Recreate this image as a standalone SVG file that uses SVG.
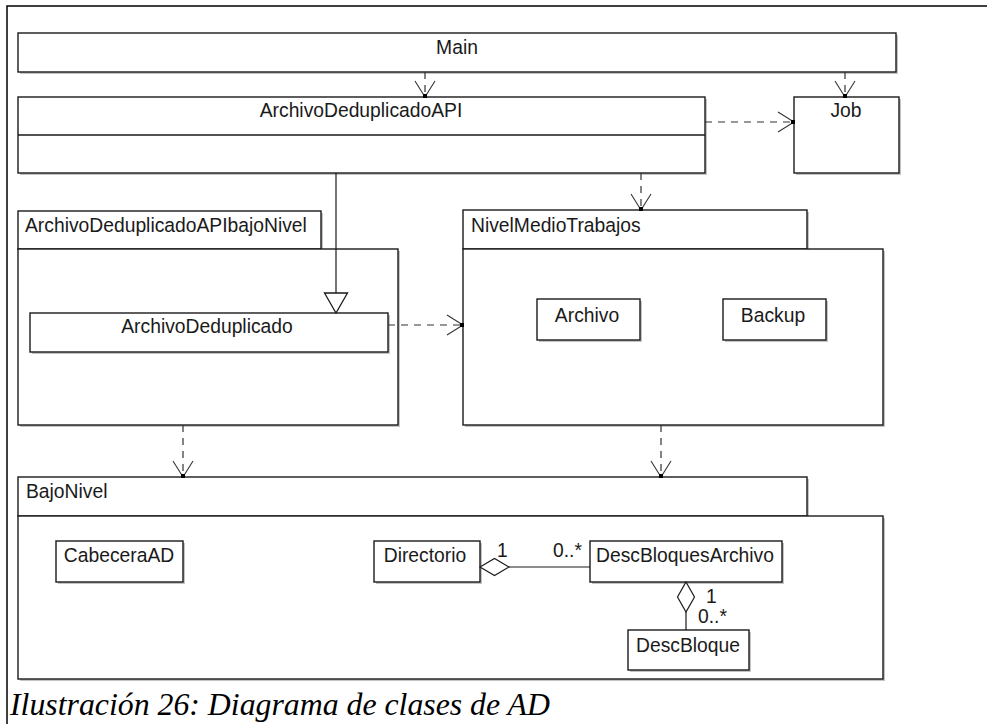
<svg xmlns="http://www.w3.org/2000/svg" width="987" height="724" viewBox="0 0 987 724">
  <style>
    .box { fill: #ffffff; stroke: #1a1a1a; stroke-width: 1.4; }
    .shadow { fill: #c4c4c4; }
    .lbl { font-family: "Liberation Sans", Arial, sans-serif; font-size: 19.3px; fill: #1a1a1a; }
    .mid { text-anchor: middle; }
    .dep { fill: none; stroke: #333333; stroke-width: 1.2; stroke-dasharray: 7 6; }
    .solid { fill: none; stroke: #1a1a1a; stroke-width: 1.2; }
    .divider { fill: none; stroke: #1a1a1a; stroke-width: 1.4; }
    .diamond { fill: #ffffff; stroke: #1a1a1a; stroke-width: 1.2; }
    .frame { fill: none; stroke: #000000; stroke-width: 1.5; }
    .caption { font-family: "Liberation Serif", "Times New Roman", serif; font-style: italic; font-size: 31.8px; fill: #000000; }
  </style>
  <defs>
    <!-- open arrowhead for dependencies, with the small anchor dot at the tip -->
    <marker id="open" markerUnits="userSpaceOnUse" viewBox="-18 -11 20 22" refX="0" refY="0" markerWidth="20" markerHeight="22" orient="auto" overflow="visible">
      <path d="M -16 -10 L 0 0 L -16 10" fill="none" stroke="#333333" stroke-width="1.1"/>
      <rect x="-3" y="-2" width="4" height="4" fill="#000000"/>
    </marker>
    <!-- hollow triangle for generalization -->
    <marker id="gen" markerUnits="userSpaceOnUse" viewBox="-21 -12 22 24" refX="0" refY="0" markerWidth="22" markerHeight="24" orient="auto" overflow="visible">
      <path d="M -20 -11.5 L 0 0 L -20 11.5 Z" fill="#ffffff" stroke="#1a1a1a" stroke-width="1.3"/>
    </marker>
  </defs>

  <!-- frame of the figure -->
  <path class="frame" d="M 7 724 L 7 6 L 987 6"/>

  <!-- packages (drawn first so the nested classes sit on top) -->
  <g id="pkg-archivo-deduplicado-api-bajo-nivel">
    <rect class="shadow" x="20" y="213" width="303" height="38"/>
    <rect class="shadow" x="20" y="251" width="380" height="176"/>
    <rect class="box" x="18" y="211" width="303" height="38"/>
    <rect class="box" x="18" y="249" width="380" height="176"/>
    <text class="lbl" x="25" y="232">ArchivoDeduplicadoAPIbajoNivel</text>
  </g>

  <g id="pkg-nivel-medio-trabajos">
    <rect class="shadow" x="465" y="212" width="344" height="39"/>
    <rect class="shadow" x="465" y="251" width="420" height="176"/>
    <rect class="box" x="463" y="210" width="344" height="39"/>
    <rect class="box" x="463" y="249" width="420" height="176"/>
    <text class="lbl" x="471" y="232">NivelMedioTrabajos</text>
  </g>

  <g id="pkg-bajo-nivel">
    <rect class="shadow" x="20" y="479" width="789" height="39"/>
    <rect class="shadow" x="20" y="518" width="865" height="163"/>
    <rect class="box" x="18" y="477" width="789" height="39"/>
    <rect class="box" x="18" y="516" width="865" height="163"/>
    <text class="lbl" x="26" y="498">BajoNivel</text>
  </g>

  <!-- classes -->
  <g id="cls-main">
    <rect class="shadow" x="20" y="35" width="878" height="39"/>
    <rect class="box" x="18" y="33" width="878" height="39"/>
    <text class="lbl mid" x="457" y="54">Main</text>
  </g>

  <g id="cls-archivo-deduplicado-api">
    <rect class="shadow" x="20" y="99" width="687" height="76"/>
    <rect class="box" x="18" y="97" width="687" height="76"/>
    <line class="divider" x1="18" y1="135" x2="705" y2="135"/>
    <text class="lbl mid" x="361" y="117">ArchivoDeduplicadoAPI</text>
  </g>

  <g id="cls-job">
    <rect class="shadow" x="796" y="99" width="105" height="76"/>
    <rect class="box" x="794" y="97" width="105" height="76"/>
    <text class="lbl mid" x="846" y="117">Job</text>
  </g>

  <g id="cls-archivo-deduplicado">
    <rect class="shadow" x="32" y="315" width="358" height="39"/>
    <rect class="box" x="30" y="313" width="358" height="39"/>
    <text class="lbl mid" x="207" y="333">ArchivoDeduplicado</text>
  </g>

  <g id="cls-archivo">
    <rect class="shadow" x="539" y="301" width="103" height="41"/>
    <rect class="box" x="537" y="299" width="103" height="41"/>
    <text class="lbl mid" x="587" y="322">Archivo</text>
  </g>

  <g id="cls-backup">
    <rect class="shadow" x="725" y="301" width="103" height="41"/>
    <rect class="box" x="723" y="299" width="103" height="41"/>
    <text class="lbl mid" x="773" y="322">Backup</text>
  </g>

  <g id="cls-cabecera-ad">
    <rect class="shadow" x="58" y="543" width="127" height="41"/>
    <rect class="box" x="56" y="541" width="127" height="41"/>
    <text class="lbl mid" x="119" y="562">CabeceraAD</text>
  </g>

  <g id="cls-directorio">
    <rect class="shadow" x="376" y="543" width="106" height="41"/>
    <rect class="box" x="374" y="541" width="106" height="41"/>
    <text class="lbl mid" x="425" y="562">Directorio</text>
  </g>

  <g id="cls-desc-bloques-archivo">
    <rect class="shadow" x="592" y="543" width="192" height="41"/>
    <rect class="box" x="590" y="541" width="192" height="41"/>
    <text class="lbl mid" x="685" y="562">DescBloquesArchivo</text>
  </g>

  <g id="cls-desc-bloque">
    <rect class="shadow" x="630" y="632" width="121" height="40"/>
    <rect class="box" x="628" y="630" width="121" height="40"/>
    <text class="lbl mid" x="688" y="652">DescBloque</text>
  </g>

  <!-- connectors -->
  <g id="connectors">
    <!-- dependencies -->
    <line class="dep" x1="425" y1="72" x2="425" y2="97" marker-end="url(#open)"/>
    <line class="dep" x1="845" y1="72" x2="845" y2="97" marker-end="url(#open)"/>
    <line class="dep" x1="705" y1="122" x2="794" y2="122" marker-end="url(#open)"/>
    <line class="dep" x1="641" y1="173" x2="641" y2="210" marker-end="url(#open)"/>
    <line class="dep" x1="388" y1="325" x2="463" y2="325" marker-end="url(#open)"/>
    <line class="dep" x1="183" y1="425" x2="183" y2="477" marker-end="url(#open)"/>
    <line class="dep" x1="661" y1="425" x2="661" y2="477" marker-end="url(#open)"/>

    <!-- generalization -->
    <line class="solid" x1="336" y1="173" x2="336" y2="313" marker-end="url(#gen)"/>

    <!-- aggregation Directorio 1 — 0..* DescBloquesArchivo -->
    <line class="solid" x1="509" y1="567" x2="590" y2="567"/>
    <polygon class="diamond" points="480,567 494.5,558.5 509,567 494.5,575.5"/>
    <text class="lbl" x="497" y="557">1</text>
    <text class="lbl" x="553" y="557">0..*</text>

    <!-- aggregation DescBloquesArchivo 1 — 0..* DescBloque -->
    <line class="solid" x1="686" y1="612" x2="686" y2="630"/>
    <polygon class="diamond" points="686,582 694.5,597 686,612 677.5,597"/>
    <text class="lbl" x="706" y="603">1</text>
    <text class="lbl" x="698" y="623">0..*</text>
  </g>

  <!-- caption -->
  <text class="caption" x="10" y="715">Ilustración 26: Diagrama de clases de AD</text>
</svg>
